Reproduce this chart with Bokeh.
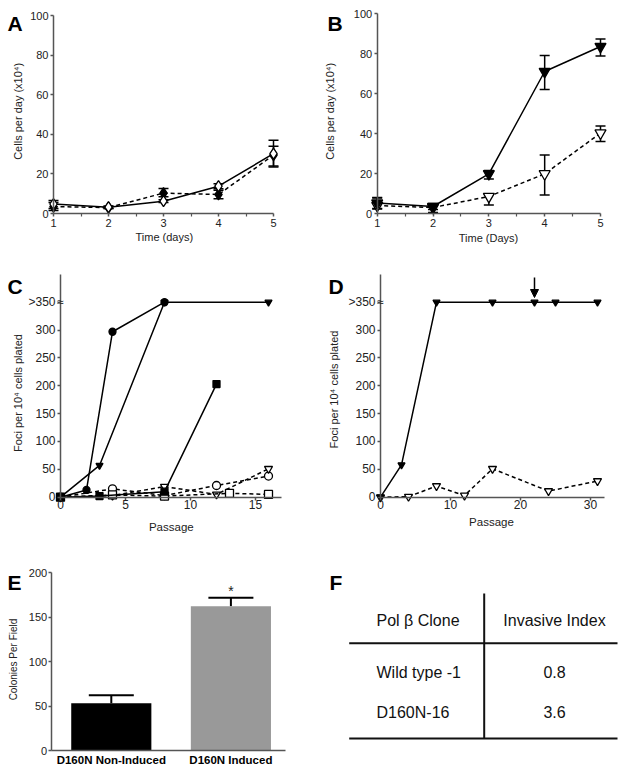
from bokeh.plotting import figure
from bokeh.models import (Range1d, FixedTicker, Label, Whisker, TeeHead,
                          ColumnDataSource, Arrow, NormalHead)
from bokeh.layouts import column, row
from bokeh.embed import file_html
from bokeh.resources import INLINE
from bokeh.core.properties import value

FONT = "Liberation Sans"
AX = "#555555"
TXT = "#222222"

# ---------------- data ----------------
# A: cells per day (x10^4)
a_days = [1, 2, 3, 4, 5]
a_open = [4.8, 3.2, 6.2, 13.8, 30.2]
a_open_lo = [2.5, 2.5, 5.5, 12.5, 23.5]
a_open_hi = [6.6, 3.8, 7.0, 15.0, 37.0]
a_fill = [3.5, 3.0, 10.3, 9.6, 29.5]
a_fill_lo = [1.5, 2.5, 8.5, 7.4, 24.0]
a_fill_hi = [5.5, 3.5, 12.6, 11.8, 34.0]

# B
b_days = [1, 2, 3, 4, 5]
b_ind = [5.2, 3.5, 19.8, 71.0, 83.5]
b_ind_lo = [2.5, 0.5, 17.3, 62.0, 78.7]
b_ind_hi = [8.0, 5.0, 21.5, 79.0, 87.3]
b_non = [4.0, 3.0, 8.5, 19.8, 40.2]
b_non_lo = [2.3, 2.0, 4.3, 9.3, 36.0]
b_non_hi = [7.8, 4.0, 9.8, 29.3, 43.8]

# C: foci per 10^4 cells plated (350 = ">350")
c_circ_x = [0, 2, 4, 8]
c_circ_y = [0, 13, 297, 350]
c_tri_x = [0, 3, 8, 16]
c_tri_y = [0, 57, 350, 350]
c_sq_x = [0, 3, 8, 12]
c_sq_y = [0, 2, 10, 203]
c_ocirc_x = [0, 4, 8, 12, 16]
c_ocirc_y = [0, 15, 3, 21, 38]
c_otri_x = [0, 4, 8, 12, 16]
c_otri_y = [0, 3, 19, 5, 51]
c_osq_x = [0, 4, 8, 13, 16]
c_osq_y = [0, 4, 2, 7, 5]

# D
d_tri_x = [0, 3, 8, 16, 22, 25, 31]
d_tri_y = [0, 58, 350, 350, 350, 350, 350]
d_otri_x = [0, 4, 8, 12, 16, 24, 31]
d_otri_y = [0, 1, 20, 3, 51, 11, 29]
d_arrow_passage = 22

# E
e_cats = ["D160N Non-Induced", "D160N Induced"]
e_vals = [53, 162]
e_err_hi = [62, 171.5]

# F
f_header = ["Pol \u03b2 Clone", "Invasive Index"]
f_clones = ["Wild type -1", "D160N-16"]
f_index = [0.8, 3.6]

foci_ticks = [0, 50, 100, 150, 200, 250, 300, 350]


# ---------------- helpers ----------------
def make_panel(fx, fy, fw, fh, xcal, ycal):
    """Figure whose plotting frame fills the whole figure; ranges calibrated
    so that data values land on the wanted page pixels."""
    xv1, xp1, xv2, xp2 = xcal
    sx = (xp2 - xp1) / (xv2 - xv1)
    x0 = xv1 + (fx - xp1) / sx
    x1 = xv1 + (fx + fw - xp1) / sx
    yv1, yp1, yv2, yp2 = ycal
    sy = (yp1 - yp2) / (yv2 - yv1)
    y0 = yv1 - (fy + fh - yp1) / sy
    y1 = yv1 + (yp1 - fy) / sy
    p = figure(width=fw, height=fh, x_range=Range1d(x0, x1), y_range=Range1d(y0, y1),
               output_backend="svg", toolbar_location=None, title=None, min_border=0)
    p.xgrid.visible = False
    p.ygrid.visible = False
    p.outline_line_color = None
    p.background_fill_color = "white"
    p.border_fill_color = "white"

    def to_data(px, py):
        return x0 + (px - fx) / sx, y1 - (py - fy) / sy
    return p, to_data


def style_axes(p, xloc, yloc, xbounds, ybounds, xticks, yticks, tick_size,
               xminor=None, x_over=None, y_over=None, x_tick_out=3, x_lab_so=2, y_lab_so=2):
    xa = p.xaxis[0]
    ya = p.yaxis[0]
    xa.fixed_location = yloc
    ya.fixed_location = xloc
    xa.bounds = xbounds
    ya.bounds = ybounds
    xa.ticker = FixedTicker(ticks=xticks, minor_ticks=xminor or [])
    ya.ticker = FixedTicker(ticks=yticks)
    for ax in (xa, ya):
        ax.axis_line_color = AX
        ax.axis_line_width = 1.5
        ax.major_tick_line_color = AX
        ax.major_tick_line_width = 1.5
        ax.major_tick_in = 0
        ax.major_label_text_font = FONT
        ax.major_label_text_font_size = tick_size
        ax.major_label_text_color = TXT
    ya.major_tick_out = 3
    xa.major_tick_out = x_tick_out
    xa.major_label_standoff = x_lab_so
    ya.major_label_standoff = y_lab_so
    if xminor:
        xa.minor_tick_line_color = AX
        xa.minor_tick_line_width = 1.2
        xa.minor_tick_out = 3
        xa.minor_tick_in = 0
    else:
        xa.minor_tick_line_color = None
    ya.minor_tick_line_color = None
    if x_over:
        xa.major_label_overrides = x_over
    if y_over:
        ya.major_label_overrides = y_over


def text_at(p, to_data, txt, px, py, size, angle=0, bold=False, align="center",
            baseline="middle", color=TXT):
    x, y = to_data(px, py)
    p.add_layout(Label(x=x, y=y, text=txt, text_font=FONT, text_font_size=size,
                       text_font_style="bold" if bold else "normal", text_color=color,
                       text_align=align, text_baseline=baseline,
                       angle=angle, angle_units="deg"))


def letter(p, to_data, txt, px, py):
    text_at(p, to_data, txt, px, py, "21px", bold=True, align="left",
            baseline="alphabetic", color="black")


def whisk(p, xs, lo, hi, size=10, lw=1.5):
    src = ColumnDataSource(dict(x=xs, lo=lo, hi=hi))
    p.add_layout(Whisker(source=src, base="x", lower="lo", upper="hi",
                         line_color="black", line_width=lw,
                         upper_head=TeeHead(size=size, line_width=lw, line_color="black"),
                         lower_head=TeeHead(size=size, line_width=lw, line_color="black")))


def series(p, xs, ys, marker, size, filled, dashed):
    p.line(xs, ys, line_color="black", line_width=1.5,
           line_dash="4 3" if dashed else "solid")
    p.scatter(xs, ys, marker=marker, size=size, line_color="black", line_width=1.3,
              fill_color="black" if filled else "white")


# ---------------- A ----------------
pA, tA = make_panel(0, 0, 312, 255, (1, 53, 5, 273), (0, 213, 100, 15))
style_axes(pA, 1, 0, (1, 5), (0, 100), a_days, [0, 20, 40, 60, 80, 100], "11px",
           xminor=[1.5, 2.5, 3.5, 4.5])
whisk(pA, a_days, a_open_lo, a_open_hi)
whisk(pA, a_days, a_fill_lo, a_fill_hi)
series(pA, a_days, a_fill, "diamond", 11, True, True)
series(pA, a_days, a_open, "diamond", 11, False, False)
text_at(pA, tA, "Cells per day (x10\u2074)", 17.5, 110.8, "11px", angle=90)
text_at(pA, tA, "Time (days)", 163.8, 236.5, "11px")
letter(pA, tA, "A", 7, 23.3)

# ---------------- B ----------------
pB, tB = make_panel(312, 0, 312, 255, (1, 376.7, 5, 600), (0, 213, 100, 13))
style_axes(pB, 1, 0, (1, 5), (0, 100), b_days, [0, 20, 40, 60, 80, 100], "11px",
           xminor=[1.5, 2.5, 3.5, 4.5])
whisk(pB, b_days, b_ind_lo, b_ind_hi)
whisk(pB, b_days, b_non_lo, b_non_hi)
series(pB, b_days, b_non, "inverted_triangle", 11, False, True)
series(pB, b_days, b_ind, "inverted_triangle", 11, True, False)
text_at(pB, tB, "Cells per day (x10\u2074)", 329.5, 110.8, "11px", angle=90)
text_at(pB, tB, "Time (Days)", 488, 237.5, "11px")
letter(pB, tB, "B", 327, 23)

# ---------------- C ----------------
pC, tC = make_panel(0, 255, 312, 280, (0, 60, 15, 255), (0, 496.7, 350, 301.7))
style_axes(pC, 0, 0, (0, 17), (0, 400), [0, 5, 10, 15], foci_ticks, "12px",
           y_over={350: ">350"}, x_lab_so=0)
series(pC, c_ocirc_x, c_ocirc_y, "circle", 8, False, True)
series(pC, c_otri_x, c_otri_y, "inverted_triangle", 8, False, True)
series(pC, c_osq_x, c_osq_y, "square", 8, False, True)
series(pC, c_sq_x, c_sq_y, "square", 7, True, False)
series(pC, c_circ_x, c_circ_y, "circle", 7, True, False)
series(pC, c_tri_x, c_tri_y, "inverted_triangle", 7, True, False)
pC.add_layout(Label(x=0, y=350, text="\u2248", text_font=FONT, text_font_size="12px",
                    text_align="center", text_baseline="middle", text_color=TXT))
text_at(pC, tC, "Foci per 10\u2074 cells plated", 17.7, 392.5, "11px", angle=90)
text_at(pC, tC, "Passage", 170.8, 526, "11.5px")
letter(pC, tC, "C", 7, 285.5)

# ---------------- D ----------------
pD, tD = make_panel(312, 255, 312, 280, (0, 380, 30, 590), (0, 496.7, 350, 301.7))
style_axes(pD, 0, 0, (0, 32), (0, 400), [0, 10, 20, 30], foci_ticks, "12px",
           y_over={350: ">350"}, x_lab_so=0)
series(pD, d_otri_x, d_otri_y, "inverted_triangle", 8, False, True)
series(pD, d_tri_x, d_tri_y, "inverted_triangle", 7, True, False)
pD.add_layout(Label(x=0, y=350, text="\u2248", text_font=FONT, text_font_size="12px",
                    text_align="center", text_baseline="middle", text_color=TXT))
_, ay0 = tD(0, 277)
_, ay1 = tD(0, 297)
pD.add_layout(Arrow(x_start=d_arrow_passage, y_start=ay0, x_end=d_arrow_passage, y_end=ay1,
                    line_color="black", line_width=1.5,
                    end=NormalHead(size=8, fill_color="black", line_color="black")))
text_at(pD, tD, "Foci per 10\u2074 cells plated", 333.3, 389, "11px", angle=90)
text_at(pD, tD, "Passage", 491, 521, "11.5px")
letter(pD, tD, "D", 328, 285.5)

# ---------------- E ----------------
e_x = [i + 1 for i in range(len(e_cats))]
pE, tE = make_panel(0, 535, 312, 235, (1, 110.8, 2, 230.4), (0, 750, 200, 572))
ex_left, _ = tE(50.7, 0)
ex_right, _ = tE(285, 0)
style_axes(pE, ex_left, 0, (ex_left, ex_right), (0, 200), e_x, [0, 50, 100, 150, 200], "11px",
           x_over={xv: c for xv, c in zip(e_x, e_cats)}, x_tick_out=0, x_lab_so=3, y_lab_so=1)
pE.xaxis[0].major_label_text_font_style = "bold"
pE.xaxis[0].major_label_text_font_size = "11.5px"
pE.xaxis[0].major_label_text_color = "black"
pE.vbar(x=e_x, top=e_vals, bottom=0, width=0.67,
        fill_color=["black", "#999999"], line_color=None)
src_e = ColumnDataSource(dict(x=e_x, lo=e_vals, hi=e_err_hi))
pE.add_layout(Whisker(source=src_e, base="x", lower="lo", upper="hi",
                      line_color="black", line_width=2, lower_head=None,
                      upper_head=TeeHead(size=45, line_width=2, line_color="black")))
pE.text(x=[e_x[1]], y=[e_err_hi[1] + 8], text=["*"], text_font=value(FONT),
        text_font_size=value("14px"), text_align="center", text_baseline="alphabetic",
        text_color=TXT)
text_at(pE, tE, "Colonies Per Field", 12.8, 659, "10px", angle=90)
letter(pE, tE, "E", 7, 582.3)

# ---------------- F ----------------
pF = figure(width=312, height=235, x_range=Range1d(312, 624), y_range=Range1d(770, 535),
            output_backend="svg", toolbar_location=None, x_axis_type=None, y_axis_type=None,
            title=None, min_border=0)
pF.xgrid.visible = False
pF.ygrid.visible = False
pF.outline_line_color = None
row_y = [620] + [671.5 + 40 * i for i in range(len(f_clones))]
pF.text(x=[376] * 3, y=row_y, text=[f_header[0]] + f_clones, text_font=value(FONT),
        text_font_size=value("16px"), text_align="left", text_baseline="middle",
        text_color="#111111")
pF.text(x=[554] * 3, y=row_y, text=[f_header[1]] + [f"{v:.1f}" for v in f_index],
        text_font=value(FONT), text_font_size=value("16px"), text_align="center",
        text_baseline="middle", text_color="#111111")
pF.segment(x0=[483.7, 348.7, 348.7], y0=[593, 642.7, 738],
           x1=[483.7, 617, 617], y1=[738, 642.7, 738], line_color="#111111", line_width=2)
pF.add_layout(Label(x=329, y=581.7, text="F", text_font=FONT, text_font_size="21px",
                    text_font_style="bold", text_color="black", text_align="left",
                    text_baseline="alphabetic"))

layout = column(row(pA, pB), row(pC, pD), row(pE, pF))
open("out.html", "w").write(file_html(layout, INLINE))
